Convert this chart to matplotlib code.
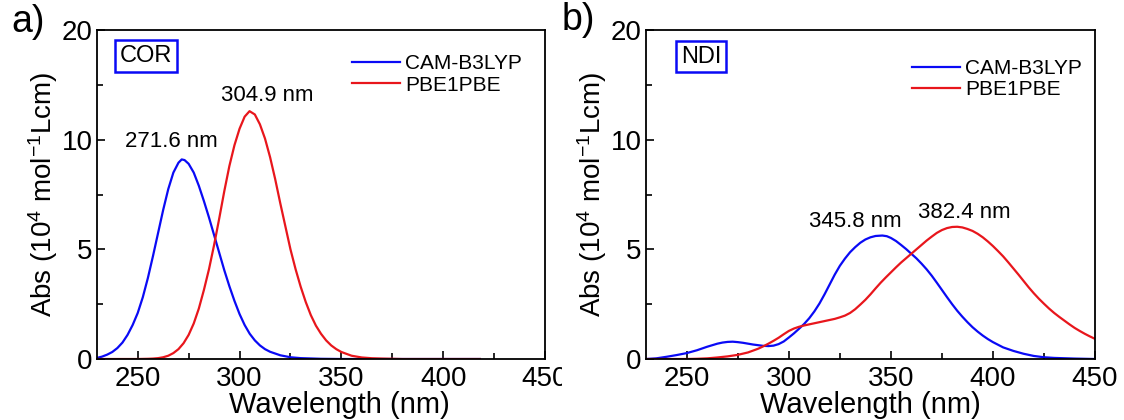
"""Simulated UV-Vis spectra of COR and NDI, two functionals"""
import matplotlib
matplotlib.use('Agg')
import matplotlib.pyplot as plt
from matplotlib.transforms import Bbox, TransformedBbox

plt.rcParams['font.family'] = ['Liberation Sans', 'DejaVu Sans']
plt.rcParams['mathtext.fontset'] = 'custom'
plt.rcParams['mathtext.rm'] = 'Liberation Sans'
plt.rcParams['mathtext.it'] = 'Liberation Sans:italic'

# COR, CAM-B3LYP (wavelength nm, abs)
cor_cam_x = [230, 232.5, 235, 237.5, 240, 242.5, 245, 247.5, 250, 252.5, 255,
             257.5, 260, 262.5, 265, 267.5, 270, 271.6, 273, 275, 277.5, 280,
             282.5, 285, 287.5, 290, 292.5, 295, 297.5, 300, 302.5, 305, 307.5,
             310, 312.5, 315, 320, 325, 330, 340, 350, 380, 418]
cor_cam_y = [0.05, 0.11, 0.2, 0.32, 0.5, 0.75, 1.1, 1.55, 2.1, 2.82, 3.7,
             4.7, 5.75, 6.8, 7.75, 8.5, 8.95, 9.1, 9.07, 8.9, 8.5, 7.9,
             7.2, 6.45, 5.65, 4.85, 4.05, 3.32, 2.65, 2.05, 1.55, 1.15, 0.85,
             0.62, 0.45, 0.33, 0.17, 0.08, 0.04, 0.01, 0.0, 0.0, 0.0]
# COR, PBE1PBE
cor_pbe_x = [230, 250, 255, 257.5, 260, 262.5, 265, 267.5, 270, 272.5, 275,
             277.5, 280, 282.5, 285, 287.5, 290, 292.5, 295, 297.5, 300, 302.5,
             304.9, 307.5, 310, 312.5, 315, 317.5, 320, 322.5, 325, 327.5, 330,
             332.5, 335, 337.5, 340, 342.5, 345, 347.5, 350, 355, 360, 365, 370,
             380, 418]
cor_pbe_y = [0.0, 0.0, 0.01, 0.02, 0.04, 0.08, 0.15, 0.27, 0.45, 0.72, 1.1,
             1.62, 2.3, 3.15, 4.1, 5.2, 6.4, 7.65, 8.8, 9.75, 10.5, 11.05,
             11.3, 11.15, 10.7, 10.05, 9.2, 8.2, 7.1, 6.05, 5.0, 4.1, 3.3,
             2.6, 2.0, 1.52, 1.15, 0.85, 0.62, 0.45, 0.32, 0.15, 0.07, 0.035,
             0.02, 0.0, 0.0]

# NDI, CAM-B3LYP
ndi_cam_x = [230, 235, 240, 245, 250, 255, 260, 262.5, 265, 267.5, 270, 272.5,
             275, 277.5, 280, 282.5, 285, 287.5, 290, 292.5, 295, 297.5, 300,
             302.5, 305, 307.5, 310, 312.5, 315, 317.5, 320, 322.5, 325, 327.5,
             330, 332.5, 335, 337.5, 340, 342.5, 345.8, 348, 350, 352.5, 355,
             357.5, 360, 362.5, 365, 367.5, 370, 372.5, 375, 377.5, 380, 382.5,
             385, 387.5, 390, 392.5, 395, 397.5, 400, 405, 410, 415, 420, 425,
             430, 440, 450]
ndi_cam_y = [0.0, 0.03, 0.1, 0.18, 0.27, 0.4, 0.56, 0.63, 0.7, 0.75, 0.78, 0.79,
             0.77, 0.74, 0.7, 0.66, 0.63, 0.6, 0.59, 0.61, 0.68, 0.8, 0.98,
             1.17, 1.38, 1.6, 1.86, 2.17, 2.53, 2.95, 3.4, 3.85, 4.25, 4.58,
             4.87, 5.1, 5.3, 5.45, 5.55, 5.61, 5.63, 5.6, 5.52, 5.38, 5.2,
             5.01, 4.8, 4.59, 4.35, 4.09, 3.8, 3.48, 3.15, 2.82, 2.5, 2.2,
             1.93, 1.68, 1.45, 1.25, 1.07, 0.91, 0.77, 0.53, 0.37, 0.24, 0.14,
             0.08, 0.05, 0.02, 0.0]
# NDI, PBE1PBE
ndi_pbe_x = [230, 250, 255, 260, 265, 270, 275, 280, 285, 287.5, 290, 292.5,
             295, 297.5, 300, 302.5, 305, 307.5, 310, 312.5, 315, 317.5, 320,
             322.5, 325, 327.5, 330, 332.5, 335, 337.5, 340, 342.5, 345, 347.5,
             350, 352.5, 355, 357.5, 360, 362.5, 365, 367.5, 370, 372.5, 375,
             377.5, 380, 382.5, 385, 387.5, 390, 392.5, 395, 397.5, 400, 402.5,
             405, 407.5, 410, 412.5, 415, 417.5, 420, 422.5, 425, 427.5, 430,
             432.5, 435, 437.5, 440, 442.5, 445, 447.5, 450]
ndi_pbe_y = [0.0, 0.0, 0.01, 0.03, 0.07, 0.12, 0.19, 0.3, 0.47, 0.58, 0.7, 0.83,
             0.97, 1.13, 1.28, 1.39, 1.47, 1.53, 1.58, 1.63, 1.68, 1.73, 1.78,
             1.83, 1.9, 1.98, 2.1, 2.27, 2.48, 2.7, 2.95, 3.22, 3.48, 3.72,
             3.95, 4.18, 4.4, 4.6, 4.8, 5.0, 5.2, 5.4, 5.58, 5.75, 5.88,
             5.97, 6.02, 6.03, 6.0, 5.93, 5.84, 5.71, 5.55, 5.36, 5.15, 4.92,
             4.68, 4.41, 4.13, 3.85, 3.56, 3.27, 3.0, 2.75, 2.52, 2.3, 2.1,
             1.92, 1.75, 1.58, 1.42, 1.28, 1.15, 1.03, 0.92]

peak_labels_cor = ['271.6 nm', '304.9 nm']
peak_labels_ndi = ['345.8 nm', '382.4 nm']
series_names = ['CAM-B3LYP', 'PBE1PBE']
ytick_vals = [0, 5, 10, 15]
ytick_text = ['0', '5', '10', '20']

BLUE = '#0a0af5'
RED = '#e8161c'

fig = plt.figure(figsize=(11.24, 4.2), dpi=100)
ax_a = fig.add_axes([0.0863, 0.1452, 0.3986, 0.7833])
ax_b = fig.add_axes([0.5747, 0.1452, 0.3995, 0.7833])


def style_axis(ax):
    ax.set_xlim(230, 450)
    ax.set_ylim(0, 15)
    ax.set_xticks([250, 300, 350, 400, 450])
    ax.set_xticks([275, 325, 375, 425], minor=True)
    ax.set_yticks(ytick_vals)
    ax.set_yticklabels(ytick_text)
    ax.set_yticks([2.5, 7.5, 12.5], minor=True)
    ax.tick_params(which='both', direction='in', width=1.2, labelsize=20,
                   top=False, right=False)
    ax.tick_params(which='major', length=6)
    ax.tick_params(which='minor', length=4)
    ax.tick_params(axis='x', pad=5)
    ax.tick_params(axis='y', pad=3)
    for sp in ax.spines.values():
        sp.set_linewidth(1.3)
    ax.set_xlabel('Wavelength (nm)', fontsize=21, labelpad=-1)
    ax.set_ylabel('Abs (10$^{4}$ mol$^{-1}$Lcm)', fontsize=20, labelpad=1)


# panel a: COR
ax_a.plot(cor_cam_x, cor_cam_y, color=BLUE, lw=1.6, label=series_names[0])
ax_a.plot(cor_pbe_x, cor_pbe_y, color=RED, lw=1.6, label=series_names[1])
style_axis(ax_a)
ax_a.text(266.3, 9.9, peak_labels_cor[0], fontsize=16, ha='center', va='center')
ax_a.text(313.5, 12.0, peak_labels_cor[1], fontsize=16, ha='center', va='center')
ax_a.text(0.109, 0.921, 'COR', transform=ax_a.transAxes, fontsize=17,
          ha='center', va='center',
          bbox=dict(boxstyle='square,pad=0.2', fc='white', ec=BLUE, lw=1.8))
ax_a.legend(loc='upper left', bbox_to_anchor=(0.569, 0.927), frameon=False,
            fontsize=15, handlelength=2.3, handletextpad=0.25,
            labelspacing=0.12, borderpad=0, borderaxespad=0)
ax_a.xaxis.label.set_position((0.54, 0))

# panel b: NDI
ax_b.plot(ndi_cam_x, ndi_cam_y, color=BLUE, lw=1.6, label=series_names[0])
ax_b.plot(ndi_pbe_x, ndi_pbe_y, color=RED, lw=1.6, label=series_names[1])
style_axis(ax_b)
ax_b.text(332.4, 6.25, peak_labels_ndi[0], fontsize=16, ha='center', va='center')
ax_b.text(385.8, 6.7, peak_labels_ndi[1], fontsize=16, ha='center', va='center')
ax_b.text(0.1225, 0.919, 'NDI', transform=ax_b.transAxes, fontsize=17,
          ha='center', va='center',
          bbox=dict(boxstyle='square,pad=0.2', fc='white', ec=BLUE, lw=1.8))
ax_b.legend(loc='upper left', bbox_to_anchor=(0.592, 0.912), frameon=False,
            fontsize=15, handlelength=2.3, handletextpad=0.25,
            labelspacing=0.12, borderpad=0, borderaxespad=0)

# the 450 label of panel a is cut where panel b starts
clip = TransformedBbox(Bbox([[0, 0], [0.5, 1]]), fig.transFigure)
last = ax_a.xaxis.get_major_ticks()[-1].label1
last.set_clip_box(clip)
last.set_clip_on(True)

fig.text(0.010, 0.948, 'a)', fontsize=27, ha='left', va='center')
fig.text(0.500, 0.952, 'b)', fontsize=27, ha='left', va='center')

fig.savefig('out.png', dpi=100)
